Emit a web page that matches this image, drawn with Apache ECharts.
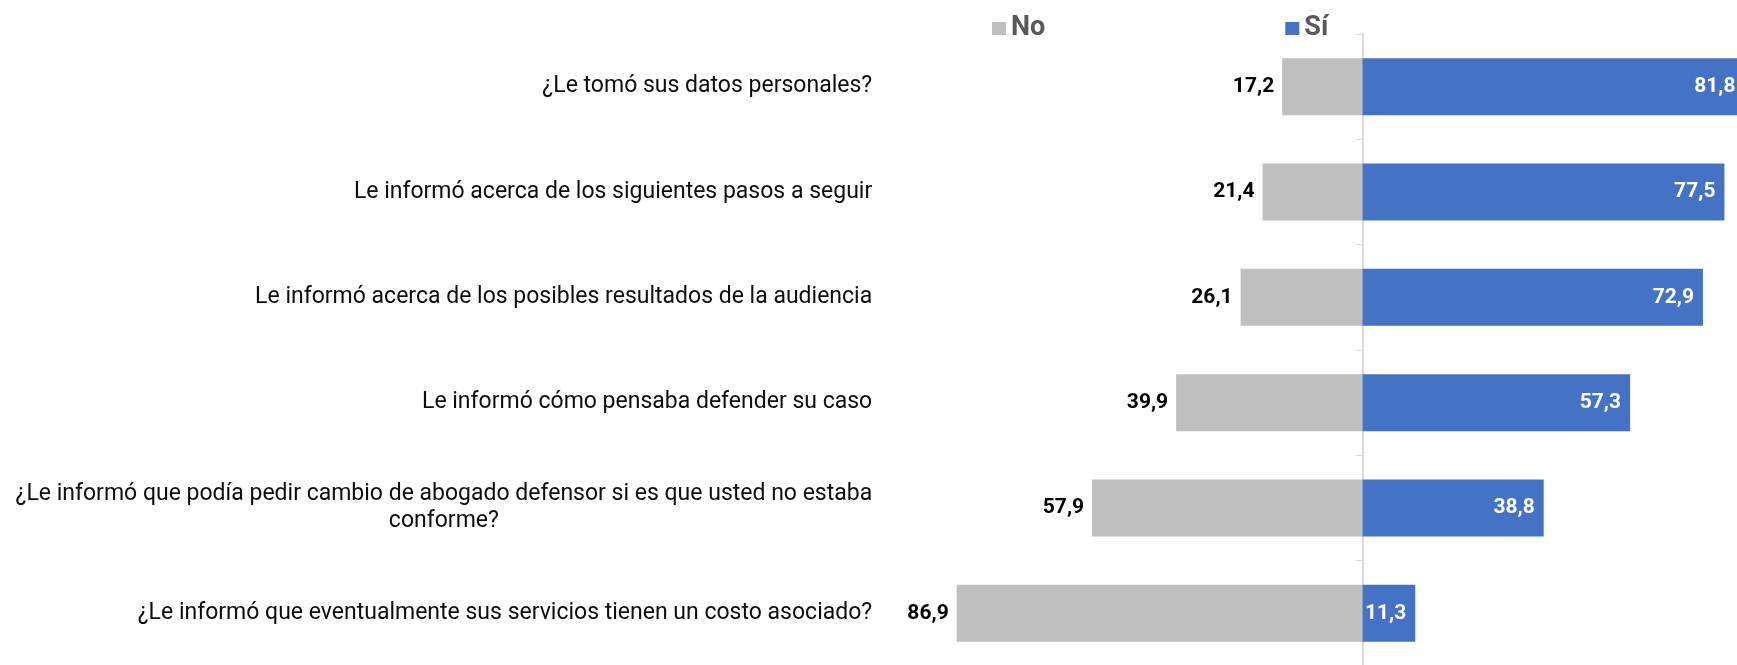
<!DOCTYPE html>
<html>
<head>
<meta charset="utf-8">
<script src="https://cdn.jsdelivr.net/npm/echarts@6/dist/echarts.min.js"></script>
<style>
  html, body { margin: 0; padding: 0; background: #ffffff; }
  #chart { width: 1737px; height: 665px; }
</style>
</head>
<body>
<div id="chart"></div>
<script>
// Survey questions (top to bottom)
const categories = [
  '¿Le tomó sus datos personales?',
  'Le informó acerca de los siguientes pasos a seguir',
  'Le informó acerca de los posibles resultados de la audiencia',
  'Le informó cómo pensaba defender su caso',
  '¿Le informó que podía pedir cambio de abogado defensor si es que usted no estaba\nconforme?',
  '¿Le informó que eventualmente sus servicios tienen un costo asociado?'
];
// Percentages
const noValues = [17.2, 21.4, 26.1, 39.9, 57.9, 86.9];
const siValues = [81.8, 77.5, 72.9, 57.3, 38.8, 11.3];
const seriesNames = ['No', 'Sí'];

const FONT = 'Roboto, "Noto Sans", sans-serif';
const fmt = v => Math.abs(v).toFixed(1).replace('.', ',');

const chart = echarts.init(document.getElementById('chart'), null, { renderer: 'canvas' });

chart.setOption({
  animation: false,
  backgroundColor: '#ffffff',
  textStyle: { fontFamily: FONT },
  legend: {
    data: seriesNames,
    left: 987,
    top: 10,
    itemWidth: 14,
    itemHeight: 13,
    itemGap: 240,
    icon: 'rect',
    textStyle: { fontFamily: FONT, fontSize: 27, fontWeight: 'bold', color: '#595959', lineHeight: 27 }
  },
  grid: {
    left: 942.2, top: 34, width: 840.6, height: 632,
    containLabel: false,
    outerBoundsMode: 'none'
  },
  xAxis: {
    type: 'value',
    min: -90,
    max: 90,
    show: false
  },
  yAxis: {
    type: 'category',
    data: categories,
    inverse: true,
    axisLine: { show: true, onZero: true, lineStyle: { color: '#d9d9d9', width: 2 } },
    axisTick: { show: true, length: 7, lineStyle: { color: '#d9d9d9', width: 1 } },
    splitLine: { show: false },
    axisLabel: {
      margin: 70,
      fontFamily: FONT,
      fontSize: 23,
      color: '#0d0d0d',
      lineHeight: 27,
      formatter: function (value) {
        const parts = value.split('\n');
        if (parts.length > 1) {
          return '{a|' + parts[0] + '}\n{c|' + parts[1] + '}';
        }
        return value;
      },
      rich: {
        a: { fontFamily: FONT, fontSize: 23, color: '#0d0d0d', lineHeight: 27 },
        c: { fontFamily: FONT, fontSize: 23, color: '#0d0d0d', lineHeight: 27, align: 'center' }
      }
    }
  },
  series: [
    {
      name: seriesNames[0],
      type: 'bar',
      data: noValues.map(v => -v),
      barWidth: 57,
      barGap: '-100%',
      itemStyle: { color: '#bfbfbf' },
      label: {
        show: true,
        position: 'left',
        distance: 8,
        formatter: p => fmt(p.value),
        fontFamily: FONT,
        fontSize: 21,
        fontWeight: 'bold',
        color: '#000000'
      }
    },
    {
      name: seriesNames[1],
      type: 'bar',
      data: siValues,
      barWidth: 57,
      barGap: '-100%',
      itemStyle: { color: '#4472c4' },
      label: {
        show: true,
        position: 'insideRight',
        distance: 9,
        formatter: p => fmt(p.value),
        fontFamily: FONT,
        fontSize: 21,
        fontWeight: 'bold',
        color: '#ffffff'
      }
    }
  ]
});
</script>
</body>
</html>
